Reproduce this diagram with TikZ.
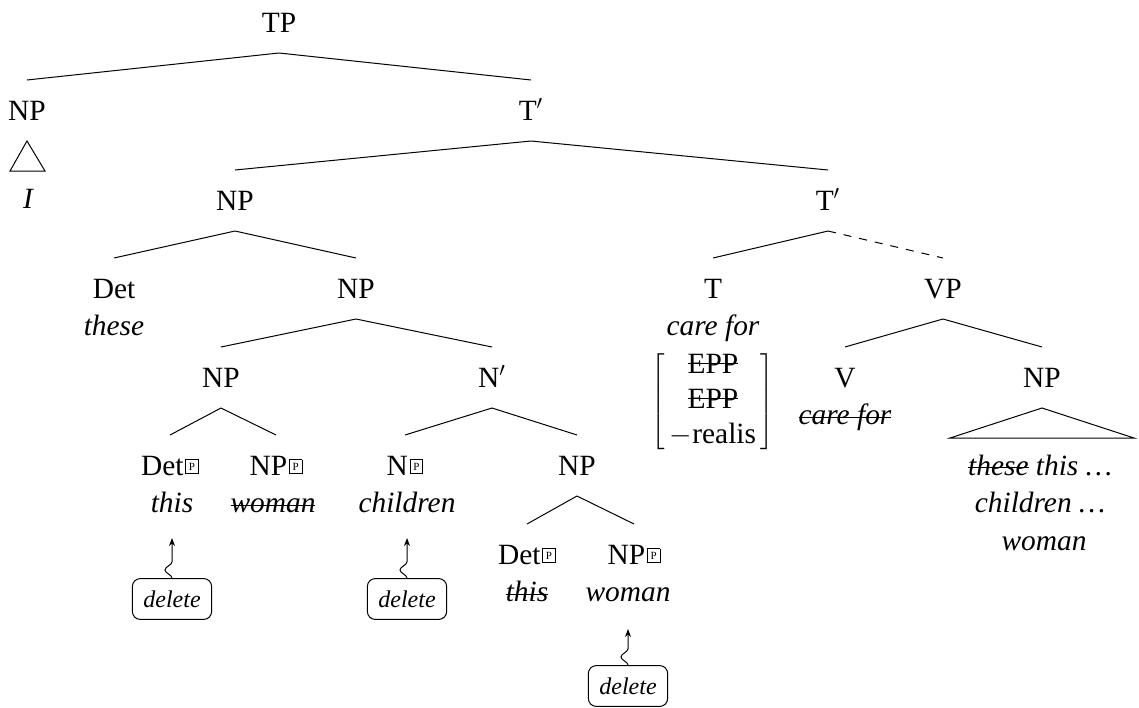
\documentclass[tikz,border=0pt]{standalone}
\usepackage{fontspec}
\setmainfont{Liberation Serif}
\usetikzlibrary{decorations.pathmorphing,arrows.meta}
\NewDocumentCommand\pf{}{\kern0.8pt\raisebox{2.4pt}{\setlength\fboxsep{1.5pt}\setlength\fboxrule{0.4pt}\fbox{\fontsize{5.5}{5.5}\selectfont P}}}
\NewDocumentCommand\strike{O{0.24em}m}{\begingroup\setbox0\hbox{#2}\rlap{\rule[#1]{\wd0}{0.45pt}}\box0\endgroup}
\tikzset{
  cat/.style={anchor=base,inner sep=0pt,text height=9.5pt,text depth=0pt,outer ysep=10.5pt},
  wd/.style={anchor=base,inner sep=0pt,text height=9.5pt,text depth=0pt,font=\fontsize{14.7}{18.75}\selectfont\itshape},
  deletebox/.style={draw,rounded corners=4pt,inner xsep=5.5pt,inner ysep=6pt,font=\fontsize{12}{14}\selectfont\itshape},
  wiggle/.style={-{Stealth[length=4pt,width=3pt]},decorate,decoration={snake,amplitude=3.5pt,segment length=13pt,post length=7pt}},
}

\begin{document}
\begin{tikzpicture}[x=0.5pt,y=-0.5pt,font=\fontsize{14.7}{18.75}\selectfont,line width=0.5pt]
        \useasboundingbox (0,0) rectangle (1139,707);
        \node[cat] (tp) at (279,32){TP};
        \node[cat] (np1) at (27,120){NP};
        \node[cat] (tbar1) at (531,120){T$'$};
        \coordinate (tri1-l) at (10,171);
        \coordinate (tri1-r) at (45,171);
        \node[wd] (w-i) at (28,208){I};
        \draw (tp.south) -- (np1.north);
        \draw (tp.south) -- (tbar1.north);
        \draw (np1.south) -- (tri1-l) -- (tri1-r) -- cycle;
        \node[cat] (np2) at (235,210){NP};
        \node[cat] (tbar2) at (828,210){T$'$};
        \draw (tbar1.south) -- (np2.north);
        \draw (tbar1.south) -- (tbar2.north);
        \node[cat] (det1) at (114,298){Det};
        \node[wd] (w-these) at (114,335.5){these};
        \node[cat] (np3) at (356,298){NP};
        \draw (np2.south) -- (det1.north);
        \draw (np2.south) -- (np3.north);
        \node[cat] (np4) at (221,387){NP};
        \node[cat] (nbar) at (492,387){N$'$};
        \draw (np3.south) -- (np4.north);
        \draw (np3.south) -- (nbar.north);
        \node[cat] (det2) at (170,475){Det\pf};
        \node[wd] (w-this1) at (172,512.5){this};
        \node[cat] (np5) at (276,475){NP\pf};
        \node[wd] (w-woman1) at (273,512.5){\strike{woman}};
        \draw (np4.south) -- (det2.north);
        \draw (np4.south) -- (np5.north);
        \node[cat] (n1) at (405,475){N\pf};
        \node[wd] (w-children) at (407,512.5){children};
        \node[cat] (np6) at (577,475){NP};
        \draw (nbar.south) -- (n1.north);
        \draw (nbar.south) -- (np6.north);
        \node[cat] (det3) at (527,564){Det\pf};
        \node[wd] (w-this2) at (527,601.5){\strike{this}};
        \node[cat] (np7) at (634,564){NP\pf};
        \node[wd] (w-woman2) at (628,601.5){woman};
        \draw (np6.south) -- (det3.north);
        \draw (np6.south) -- (np7.north);
        \node[deletebox] (del1) at (172,599){delete};
        \node[deletebox] (del2) at (407,599){delete};
        \node[deletebox] (del3) at (628,686){delete};
        \draw[wiggle] (del1.north) -- ([yshift=-12.5pt]w-this1.south);
        \draw[wiggle] (del2.north) -- ([yshift=-12.5pt]w-children.south);
        \draw[wiggle] (del3.north) -- ([yshift=-13.5pt]w-woman2.south);
        \node[cat] (t) at (713,298){T};
        \node[wd] (w-carefor1) at (713,335.5){care for};
        \node (feat) at (713,401.5){\renewcommand\arraystretch{0.93}$\left[\begin{tabular}{@{\,}c@{\,}}\strike[0.32em]{EPP}\\\strike[0.32em]{EPP}\\$-$realis\end{tabular}\right]$};
        \node[cat] (vp) at (943,298){VP};
        \draw (tbar2.south) -- (t.north);
        \draw[dash pattern=on 4pt off 4pt] (tbar2.south) -- (vp.north);
        \node[cat] (v) at (845,387){V};
        \node[wd] (w-carefor2) at (845,424.5){\strike{care for}};
        \node[cat] (np8) at (1042,387){NP};
        \draw (vp.south) -- (v.north);
        \draw (vp.south) -- (np8.north);
        \coordinate (tri2-l) at (950,438);
        \coordinate (tri2-r) at (1134,438);
        \draw (np8.south) -- (tri2-l) -- (tri2-r) -- cycle;
        \node[wd] (w-np8a) at (1040,475){\strike{these} this \dots};
        \node[wd] (w-np8b) at (1040,512.5){children \dots};
        \node[wd] (w-np8c) at (1044,550){woman};
    \end{tikzpicture}
\end{document}
